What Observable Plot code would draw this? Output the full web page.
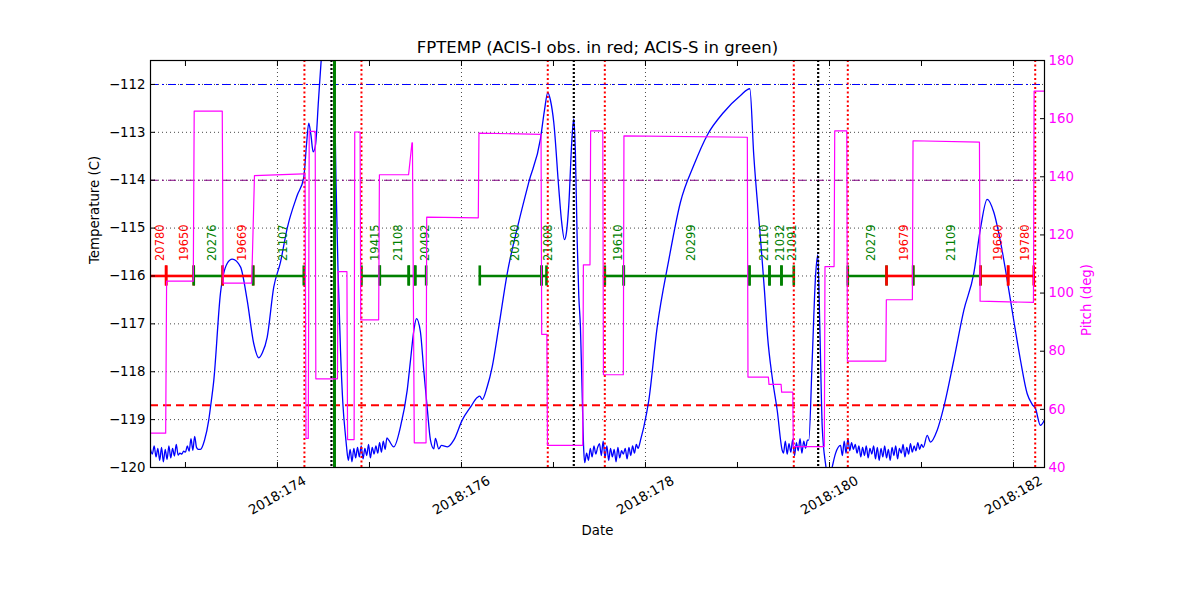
<!DOCTYPE html>
<html>
<head>
<meta charset="utf-8">
<script src="https://cdn.jsdelivr.net/npm/d3@7"></script>
<script src="https://cdn.jsdelivr.net/npm/@observablehq/plot@0.6"></script>
<style>
  html, body { margin: 0; padding: 0; background: #fff; }
  #chart svg { display: block; }
</style>
</head>
<body>
<div id="chart"></div>
<script>
// ---------------- DATA (day-of-year 2018) ----------------
const chartTitle = "FPTEMP (ACIS-I obs. in red; ACIS-S in green)";
const xDomain = [172.62, 182.337];
const tempDomain = [-120, -111.5];
const pitchDomain = [40, 180];

const dayTicks = [173, 174, 175, 176, 177, 178, 179, 180, 181, 182];
const dayLabels = [174, 176, 178, 180, 182];
const tempTicks = [-120, -119, -118, -117, -116, -115, -114, -113, -112];
const pitchTicks = [40, 60, 80, 100, 120, 140, 160, 180];

const planningLimit = -112;   // blue dash-dot
const yellowLimit = -114;     // purple dash-dot
const lowLimit = -118.7;      // red dashed
const obsLevel = -116;

// radiation zone boundaries (red dotted), perigees (black dotted), marker (green)
const radZoneTimes = [174.293, 174.913, 176.938, 177.558, 179.612, 180.199, 182.236];
const perigeeTimes = [174.587, 177.221, 179.877];
const markerTimes = [174.620];

// observations
const obsIds   = ["20780","19650","20276","19669","21107","19415","21108","","20492","20300","21008","19610","20299","21110","21032","21091","20279","19679","21109","19680","19780"];
const obsInst  = ["I","I","S","I","S","S","S","S","S","S","S","S","S","S","S","S","S","I","S","I","I"];
const obsStart = [172.568,172.790,173.090,173.405,173.736,174.913,175.112,175.427,175.497,176.199,176.870,177.558,177.764,179.130,179.348,179.478,180.199,180.620,180.910,181.641,181.942];
const obsStop  = [172.790,173.090,173.405,173.736,174.286,175.112,175.427,175.497,175.616,176.870,176.924,177.764,179.130,179.348,179.478,179.612,180.620,180.910,181.641,181.942,182.220];

// FPTEMP samples [day, degC]
const fptemp = [
  [172.62,-119.62],[172.64,-119.72],[172.66,-119.55],[172.68,-119.78],[172.70,-119.60],[172.72,-119.85],
  [172.74,-119.58],[172.76,-119.88],[172.78,-119.62],[172.80,-119.83],[172.82,-119.55],[172.84,-119.80],
  [172.86,-119.60],[172.88,-119.76],[172.90,-119.52],[172.92,-119.74],[172.94,-119.70],[172.96,-119.72],
  [172.98,-119.66],[173.00,-119.68],[173.02,-119.55],[173.04,-119.66],[173.06,-119.40],[173.08,-119.64],
  [173.10,-119.35],[173.12,-119.58],[173.14,-119.62],
  [173.163,-119.62],[173.207,-119.43],[173.253,-119.01],[173.272,-118.74],[173.308,-118.18],[173.380,-116.37],
  [173.453,-115.74],[173.508,-115.65],[173.598,-115.81],[173.671,-116.51],[173.742,-117.41],[173.797,-117.71],
  [173.837,-117.60],[173.888,-117.28],[173.960,-116.23],[174.033,-115.71],[174.105,-115.01],[174.214,-114.32],
  [174.286,-113.94],[174.315,-113.27],[174.340,-112.81],[174.364,-113.06],[174.388,-113.41],[174.413,-113.27],
  [174.446,-112.33],[174.475,-111.50],[174.511,-110.66],[174.554,-110.25],[174.587,-110.66],[174.614,-111.50],
  [174.636,-114.00],[174.658,-115.88],[174.685,-117.55],[174.712,-118.70],[174.739,-119.33],
  [174.75,-119.55],[174.77,-119.85],[174.79,-119.62],[174.81,-119.88],[174.83,-119.60],[174.85,-119.80],
  [174.87,-119.58],[174.89,-119.78],[174.91,-119.55],[174.93,-119.82],[174.95,-119.60],[174.97,-119.75],
  [174.99,-119.52],[175.01,-119.80],[175.03,-119.58],[175.05,-119.72],[175.07,-119.55],[175.09,-119.70],
  [175.11,-119.48],[175.13,-119.68],[175.15,-119.45],[175.17,-119.62],[175.19,-119.38],
  [175.210,-119.43],[175.264,-119.57],[175.337,-119.15],[175.410,-118.39],[175.446,-117.76],[175.482,-117.14],
  [175.511,-116.89],[175.554,-117.17],[175.590,-117.97],[175.627,-118.74],[175.663,-119.43],[175.699,-119.61],
  [175.717,-119.39],[175.753,-119.61],[175.783,-119.54],[175.848,-119.57],[175.916,-119.43],[176.008,-119.01],
  [176.098,-118.74],[176.171,-118.54],[176.199,-118.51],[176.225,-118.58],[176.279,-118.32],[176.334,-117.90],
  [176.405,-117.07],[176.497,-115.95],[176.623,-114.87],[176.732,-114.04],[176.859,-113.13],[176.902,-112.54],
  [176.938,-112.17],[176.967,-112.33],[177.003,-112.79],[177.058,-114.18],[177.087,-114.84],[177.120,-115.24],
  [177.141,-115.09],[177.166,-114.53],[177.203,-113.06],[177.221,-112.72],[177.239,-113.48],[177.258,-115.29],
  [177.275,-116.41],[177.293,-117.07],[177.312,-118.46],[177.329,-119.64],
  [177.34,-119.90],[177.36,-119.70],[177.38,-119.85],[177.40,-119.60],[177.42,-119.78],[177.44,-119.55],
  [177.46,-119.72],[177.48,-119.58],[177.50,-119.50],[177.52,-119.75],[177.54,-119.45],[177.56,-119.80],
  [177.58,-119.55],[177.60,-119.85],[177.62,-119.60],[177.64,-119.78],[177.66,-119.62],[177.68,-119.88],
  [177.70,-119.58],[177.72,-119.80],[177.74,-119.65],[177.76,-119.72],[177.78,-119.60],[177.80,-119.82],
  [177.82,-119.58],[177.84,-119.75],[177.86,-119.55],[177.88,-119.70],[177.90,-119.52],[177.92,-119.60],
  [177.94,-119.48],
  [177.946,-119.43],[177.982,-119.15],[178.036,-118.60],[178.127,-117.07],[178.253,-115.67],[178.380,-114.46],
  [178.525,-113.69],[178.671,-113.06],[178.851,-112.58],[179.033,-112.23],[179.134,-112.09],[179.177,-113.48],
  [179.250,-115.22],[179.293,-116.30],[179.326,-117.24],[179.377,-118.11],[179.432,-118.81],[179.486,-119.64],
  [179.50,-119.70],[179.52,-119.45],[179.54,-119.72],[179.56,-119.50],[179.58,-119.68],[179.60,-119.42],
  [179.62,-119.75],[179.64,-119.48],[179.66,-119.65],[179.68,-119.40],[179.70,-119.70],[179.72,-119.45],
  [179.74,-119.60],[179.76,-119.43],
  [179.775,-119.43],[179.812,-117.76],[179.848,-116.02],[179.873,-115.56],[179.895,-117.07],[179.921,-119.15],
  [179.957,-119.92],[179.993,-120.25],[180.022,-120.05],[180.065,-119.71],[180.120,-119.54],
  [180.14,-119.75],[180.16,-119.45],[180.18,-119.70],[180.20,-119.40],[180.22,-119.65],[180.24,-119.48],
  [180.26,-119.62],[180.28,-119.52],[180.30,-119.70],[180.32,-119.55],[180.34,-119.78],[180.36,-119.58],
  [180.38,-119.75],[180.40,-119.55],[180.42,-119.80],[180.44,-119.60],[180.46,-119.72],[180.48,-119.55],
  [180.50,-119.82],[180.52,-119.58],[180.54,-119.85],[180.56,-119.60],[180.58,-119.78],[180.60,-119.55],
  [180.62,-119.80],[180.64,-119.62],[180.66,-119.85],[180.68,-119.58],[180.70,-119.75],[180.72,-119.55],
  [180.74,-119.82],[180.76,-119.60],[180.78,-119.70],[180.80,-119.52],[180.82,-119.78],[180.84,-119.58],
  [180.86,-119.72],[180.88,-119.50],[180.90,-119.68],[180.92,-119.55],[180.94,-119.65],[180.96,-119.48],
  [180.98,-119.62],[181.00,-119.52],[181.02,-119.58],
  [181.062,-119.33],[181.098,-119.47],[181.171,-119.22],[181.242,-118.74],[181.351,-117.76],[181.460,-116.72],
  [181.568,-115.95],[181.641,-115.01],[181.714,-114.40],[181.786,-114.67],[181.859,-115.29],[181.932,-116.09],
  [182.003,-116.93],[182.076,-117.76],[182.149,-118.46],[182.203,-118.68],[182.239,-118.77],[182.293,-119.12],
  [182.337,-119.01]
];

// Pitch samples [day, deg]
const pitch = [
  [172.62,51.8],[172.785,51.8],[172.795,104.1],[173.085,104.1],[173.095,162.6],[173.400,162.6],
  [173.41,103.4],[173.72,103.4],[173.75,140.4],[174.28,141.0],[174.30,141.0],[174.31,50.0],
  [174.335,50.0],[174.345,155.6],[174.41,155.6],[174.417,70.5],[174.652,70.5],[174.658,107.4],
  [174.755,107.4],[174.762,49.6],[174.833,49.6],[174.84,155.4],[174.898,155.4],[174.905,90.8],
  [175.100,90.8],[175.108,140.7],[175.425,140.7],[175.462,151.7],[175.467,151.7],[175.487,48.5],
  [175.615,48.5],[175.622,126.1],[176.183,125.9],[176.19,155.0],[176.865,154.6],[176.872,85.8],
  [176.928,85.8],[176.935,47.6],[177.318,47.6],[177.325,109.7],[177.397,109.7],[177.404,155.8],
  [177.536,155.8],[177.543,71.9],[177.759,71.9],[177.766,154.1],[179.107,153.6],[179.114,71.1],
  [179.336,71.1],[179.342,68.6],[179.474,68.6],[179.48,65.9],[179.601,65.9],[179.607,47.2],
  [179.944,47.2],[179.951,109.1],[180.05,109.1],[180.057,155.8],[180.188,155.8],[180.195,76.6],
  [180.612,76.6],[180.618,97.7],[180.901,97.7],[180.908,152.4],[181.63,151.9],[181.637,97.2],
  [182.217,96.8],[182.224,169.5],[182.337,169.5]
];

// ---------------- BUILD ----------------
// second (pitch) scale mapped onto the temperature axis
const pitchScale = d3.scaleLinear().domain(pitchDomain).range(tempDomain);

const obsRows = obsIds.map((id, i) => ({
  id, start: obsStart[i], end: obsStop[i],
  color: obsInst[i] === "I" ? "red" : "green"
}));
const obsEnds = obsRows.flatMap(o => [{x: o.start, color: o.color}, {x: o.end, color: o.color}]);

const font = "DejaVu Sans, sans-serif";
const gridStyle = {stroke: "black", strokeWidth: 0.8, strokeDasharray: "1,3", strokeOpacity: 0.9};

const chart = Plot.plot({
  width: 1200,
  height: 600,
  marginLeft: 150,
  marginRight: 156,
  marginTop: 60,
  marginBottom: 133,
  x: {domain: xDomain},
  y: {domain: tempDomain},
  color: {type: "identity"},
  style: {fontFamily: font, fontSize: "13.3px", background: "white", color: "black"},
  marks: [
    // grid
    Plot.ruleX(dayLabels, gridStyle),
    Plot.ruleY(tempTicks, gridStyle),
    // limit lines
    Plot.ruleY([planningLimit], {stroke: "blue", strokeWidth: 1.1, strokeDasharray: "8,4,2,4"}),
    Plot.ruleY([yellowLimit], {stroke: "purple", strokeWidth: 1.1, strokeDasharray: "8,4,2,4"}),
    Plot.ruleY([lowLimit], {stroke: "red", strokeWidth: 2.2, strokeDasharray: "8,5"}),
    // temperature
    Plot.line(fptemp, {x: d => d[0], y: d => d[1], stroke: "blue", strokeWidth: 1.3, curve: "monotone-x", clip: true}),
    // observations
    Plot.ruleY(obsRows, {y: () => obsLevel, x1: "start", x2: "end", stroke: "color", strokeWidth: 2.6, clip: true}),
    Plot.ruleX(obsEnds, {x: "x", y1: () => obsLevel - 0.21, y2: () => obsLevel + 0.21, stroke: "color", strokeWidth: 2.6, clip: true}),
    Plot.text(obsRows.filter(d => d.id), {
      x: d => (d.start + d.end) / 2, y: () => obsLevel, dy: -15,
      text: "id", rotate: -90, textAnchor: "start", lineAnchor: "top",
      fill: "color", fontSize: 11.5, clip: true
    }),
    // vertical event lines
    Plot.ruleX(radZoneTimes, {stroke: "red", strokeWidth: 2, strokeDasharray: "2,2.5"}),
    Plot.ruleX(perigeeTimes, {stroke: "black", strokeWidth: 2.2, strokeDasharray: "2,2"}),
    Plot.ruleX(markerTimes, {stroke: "green", strokeWidth: 3}),
    // pitch (second axis)
    Plot.line(pitch, {x: d => d[0], y: d => pitchScale(d[1]), stroke: "magenta", strokeWidth: 1.2, clip: true}),
    // axes
    Plot.axisX(dayTicks, {anchor: "bottom", tickSize: -5, tickFormat: () => "", label: null}),
    Plot.axisX(dayTicks, {anchor: "top", tickSize: -5, tickFormat: () => "", label: null}),
    Plot.axisY(tempTicks, {anchor: "left", tickSize: -5, tickPadding: 10, label: null, fontSize: 13.3}),
    Plot.axisY(pitchTicks.map(p => pitchScale(p)), {anchor: "right", tickSize: -5, tickFormat: () => "", label: null}),
    Plot.text(pitchTicks, {y: p => pitchScale(p), frameAnchor: "right", dx: 4, textAnchor: "start",
      text: p => String(p), fill: "magenta", fontSize: 13.3}),
    Plot.text(dayLabels, {x: d => d, frameAnchor: "bottom", dy: 28, rotate: -30, textAnchor: "middle",
      lineAnchor: "middle", text: d => `2018:${d}`, fontSize: 13.3}),
    Plot.frame({stroke: "black", strokeWidth: 1.2}),
    // titles
    Plot.text([chartTitle], {frameAnchor: "top", dy: -13, fontSize: 16.5, lineAnchor: "middle"}),
    Plot.text(["Date"], {frameAnchor: "bottom", dy: 63, fontSize: 13.3, lineAnchor: "middle"}),
    Plot.text(["Temperature (C)"], {frameAnchor: "left", dx: -56, rotate: -90, fontSize: 13.3}),
    Plot.text(["Pitch (deg)"], {frameAnchor: "right", dx: 42, rotate: -90, fontSize: 13.3, fill: "magenta"})
  ]
});

document.getElementById("chart").appendChild(chart);
</script>
</body>
</html>
